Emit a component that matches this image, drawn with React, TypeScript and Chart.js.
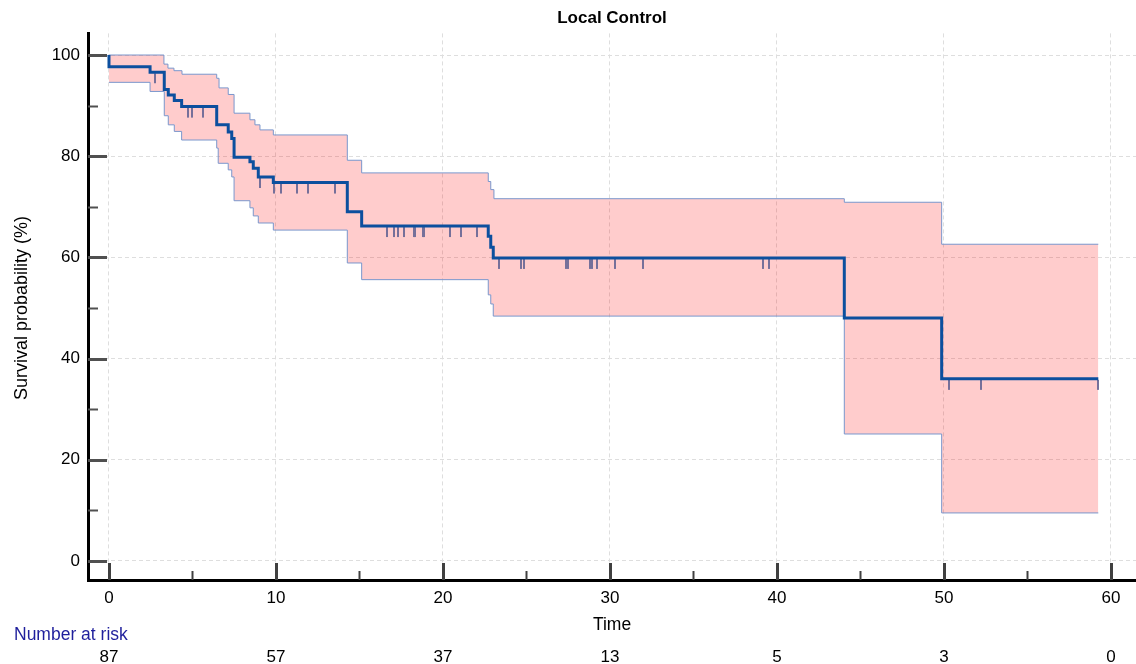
import React, { useEffect, useRef } from 'react';
import { Chart, registerables } from 'chart.js';

Chart.register(...registerables);

const chartTitle = 'Local Control';
const xAxisTitle = 'Time';
const yAxisTitle = 'Survival probability (%)';
const riskLabel = 'Number at risk';

// Kaplan-Meier estimate (time, survival %)
const kmTimes = [0, 0, 2.46, 3.31, 3.55, 3.91, 4.35, 6.45, 7.14, 7.35, 7.49, 8.44, 8.64, 8.94, 9.84, 14.27, 15.13, 22.71, 22.86, 23.01, 44.03, 49.86, 59.24];
const kmSurv = [100, 97.7, 96.6, 93.2, 92.1, 91.0, 89.8, 86.2, 84.8, 83.5, 79.8, 78.9, 77.6, 75.9, 74.8, 69.0, 66.2, 64.2, 62.0, 59.9, 48.0, 36.0, 36.0];

// 95% confidence band
const upperTimes = [0, 3.29, 3.53, 3.89, 4.37, 6.45, 6.59, 7.14, 7.49, 8.44, 8.74, 9.04, 9.84, 14.27, 15.13, 22.71, 22.86, 23.05, 44.03, 49.86, 59.24];
const upperValues = [100, 98.2, 97.4, 96.9, 96.2, 95.4, 93.5, 92.2, 88.5, 87.2, 86.2, 85.2, 84.2, 79.2, 76.7, 75.0, 73.4, 71.6, 70.9, 62.6, 62.6];
const lowerTimes = [0, 2.46, 3.31, 3.55, 3.91, 4.35, 6.45, 6.54, 7.14, 7.35, 7.49, 8.44, 8.64, 8.94, 9.84, 14.27, 15.13, 22.71, 22.86, 23.01, 44.03, 49.86, 59.24];
const lowerValues = [94.6, 92.8, 88.0, 86.2, 84.9, 83.2, 81.6, 78.6, 77.3, 75.9, 71.2, 69.8, 68.2, 66.8, 65.4, 58.9, 55.6, 52.6, 50.8, 48.4, 25.1, 9.5, 9.5];

// censored observations
const censorTimes = [2.75, 4.71, 4.95, 5.61, 9.02, 9.86, 10.30, 11.24, 11.93, 13.53, 16.66, 17.08, 17.29, 17.68, 18.28, 18.34, 18.82, 18.88, 20.42, 21.08, 22.02, 23.37, 24.70, 24.87, 27.37, 27.50, 28.80, 28.90, 29.20, 30.30, 31.96, 39.18, 39.54, 50.32, 52.22, 59.24];

const xTickValues = [0, 5, 10, 15, 20, 25, 30, 35, 40, 45, 50, 55, 60];
const yTickValues = [0, 10, 20, 30, 40, 50, 60, 70, 80, 90, 100];

const riskTimes = [0, 10, 20, 30, 40, 50, 60];
const riskCounts = [87, 57, 37, 13, 5, 3, 0];

const FONT = "'Liberation Sans', Arial, sans-serif";

function survAt(t: number): number {
  let s = kmSurv[0];
  for (let i = 0; i < kmTimes.length; i++) {
    if (kmTimes[i] <= t) s = kmSurv[i];
  }
  return s;
}

const zip = (xs: number[], ys: number[]) => xs.map((x, i) => ({ x, y: ys[i] }));

const kmDecor = {
  id: 'kmDecor',
  afterDraw(chart: any) {
    const { ctx, chartArea: a, scales } = chart;
    const x = scales.x;
    const y = scales.y;
    ctx.save();
    // y tick marks (inside)
    yTickValues.forEach((v) => {
      const py = Math.round(y.getPixelForValue(v)) + 0.5;
      const major = v % 20 === 0;
      ctx.strokeStyle = '#505050';
      ctx.lineWidth = major ? 3 : 2;
      ctx.beginPath();
      ctx.moveTo(a.left, py);
      ctx.lineTo(a.left + (major ? 19 : 10), py);
      ctx.stroke();
    });
    // x tick marks (inside)
    xTickValues.forEach((v) => {
      const px = Math.round(x.getPixelForValue(v)) + 0.5;
      const major = v % 10 === 0;
      ctx.strokeStyle = '#404040';
      ctx.lineWidth = major ? 3 : 2;
      ctx.beginPath();
      ctx.moveTo(px, a.bottom);
      ctx.lineTo(px, a.bottom - (major ? 17 : 9));
      ctx.stroke();
    });
    // y axis title
    ctx.save();
    const cy = (y.getPixelForValue(0) + y.getPixelForValue(100)) / 2;
    ctx.translate(27, cy);
    ctx.rotate(-Math.PI / 2);
    ctx.font = `18px ${FONT}`;
    ctx.fillStyle = '#000';
    ctx.textAlign = 'center';
    ctx.textBaseline = 'alphabetic';
    ctx.fillText(yAxisTitle, 0, 0);
    ctx.restore();
    // number at risk
    ctx.font = `17.5px ${FONT}`;
    ctx.fillStyle = '#1f1f9c';
    ctx.textAlign = 'left';
    ctx.textBaseline = 'alphabetic';
    ctx.fillText(riskLabel, 14, 640);
    ctx.font = `17px ${FONT}`;
    ctx.fillStyle = '#000';
    ctx.textAlign = 'center';
    riskTimes.forEach((t, i) => {
      ctx.fillText(String(riskCounts[i]), x.getPixelForValue(t), 662);
    });
    ctx.restore();
  },
};

export default function App() {
  const ref = useRef<HTMLCanvasElement>(null);
  useEffect(() => {
    const canvas = ref.current;
    if (!canvas) return;
    Chart.defaults.font.family = FONT;

    const tick = document.createElement('canvas');
    tick.width = 2;
    tick.height = 24;
    const tctx = tick.getContext('2d')!;
    tctx.fillStyle = '#76709a';
    tctx.fillRect(0, 13, 2, 10);

    const gridColor = '#dedede';
    const xMin = -1.257;
    const xMax = 61.497;
    const yMin = -3.755;
    const yMax = 104.27;

    const chart = new Chart(canvas, {
      type: 'line',
      data: {
        datasets: [
          {
            label: 'upper',
            data: zip(upperTimes, upperValues),
            stepped: true,
            borderColor: '#7a96cc',
            borderWidth: 1,
            pointRadius: 0,
            backgroundColor: 'rgba(255,0,0,0.2)',
            fill: '+1',
            order: 3,
          },
          {
            label: 'lower',
            data: zip(lowerTimes, lowerValues),
            stepped: true,
            borderColor: '#7a96cc',
            borderWidth: 1,
            pointRadius: 0,
            fill: false,
            order: 2,
          },
          {
            label: 'censored',
            data: censorTimes.map((t) => ({ x: t, y: survAt(t) })),
            showLine: false,
            pointStyle: tick as any,
            pointRadius: 6,
            order: 1,
          },
          {
            label: 'km',
            data: zip(kmTimes, kmSurv),
            stepped: true,
            borderColor: '#0c4f9e',
            borderWidth: 3,
            pointRadius: 0,
            fill: false,
            order: 0,
          },
        ],
      },
      options: {
        animation: false,
        responsive: false,
        devicePixelRatio: 1,
        events: [],
        layout: { padding: 0, autoPadding: false },
        plugins: {
          legend: { display: false },
          tooltip: { enabled: false },
          title: {
            display: true,
            text: chartTitle,
            fullSize: false,
            color: '#000',
            font: { size: 17, weight: 'bold', family: FONT },
            padding: { top: 8, bottom: 5 },
          },
        },
        scales: {
          x: {
            type: 'linear',
            min: xMin,
            max: xMax,
            afterBuildTicks: (s: any) => {
              s.ticks = xTickValues.map((v) => ({ value: v }));
            },
            afterFit: (s: any) => {
              s.height = 84;
              s.paddingLeft = 0;
              s.paddingRight = 0;
            },
            ticks: {
              autoSkip: false,
              maxRotation: 0,
              padding: 8,
              color: '#000',
              font: { size: 17, family: FONT },
              callback: (v: any) => (Number(v) % 10 === 0 ? String(v) : ''),
            },
            grid: {
              drawTicks: false,
              lineWidth: 1,
              color: (c: any) => (c.tick && c.tick.value % 10 === 0 ? gridColor : 'rgba(0,0,0,0)'),
            },
            border: { display: true, color: '#000', width: 3, dash: [4, 3] },
            title: {
              display: true,
              text: xAxisTitle,
              color: '#000',
              font: { size: 17.5, family: FONT },
              padding: { top: 0, bottom: 28 },
            },
          },
          y: {
            type: 'linear',
            min: yMin,
            max: yMax,
            afterBuildTicks: (s: any) => {
              s.ticks = yTickValues.map((v) => ({ value: v }));
            },
            afterFit: (s: any) => {
              s.width = 88;
              s.paddingTop = 0;
              s.paddingBottom = 0;
            },
            ticks: {
              padding: 8,
              color: '#000',
              font: { size: 17, family: FONT },
              callback: (v: any) => (Number(v) % 20 === 0 ? String(v) : ''),
            },
            grid: {
              drawTicks: false,
              lineWidth: 1,
              color: (c: any) => (c.tick && c.tick.value % 20 === 0 ? gridColor : 'rgba(0,0,0,0)'),
            },
            border: { display: true, color: '#000', width: 3, dash: [4, 3] },
            title: { display: false },
          },
        },
      },
      plugins: [kmDecor],
    } as any);
    return () => chart.destroy();
  }, []);

  return (
    <div style={{ position: 'fixed', left: 0, top: 0, width: 1136, height: 664, background: '#fff' }}>
      <canvas ref={ref} width={1136} height={664} style={{ display: 'block', width: 1136, height: 664 }} />
    </div>
  );
}
